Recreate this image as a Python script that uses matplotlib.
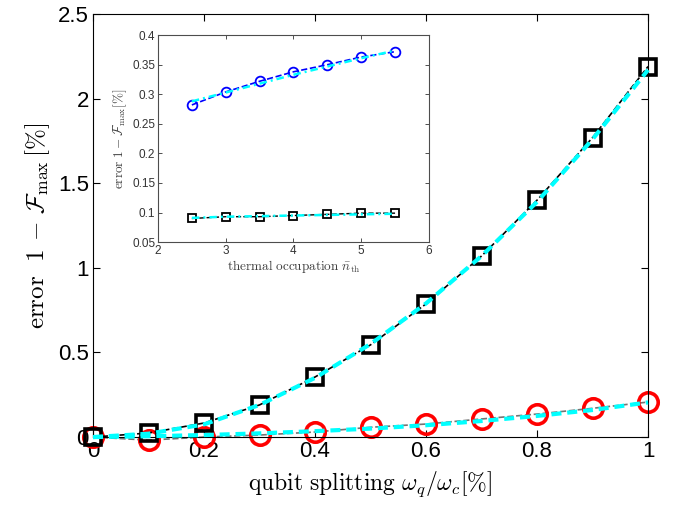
import numpy as np
import matplotlib.pyplot as plt

plt.rcParams['mathtext.fontset'] = 'cm'
plt.rcParams['font.family'] = ['Liberation Sans', 'DejaVu Sans']

# main panel data
split = [0, 0.1, 0.2, 0.3, 0.4, 0.5, 0.6, 0.7, 0.8, 0.9, 1.0]
err_sq = [0, 0.024, 0.083, 0.19, 0.355, 0.545, 0.787, 1.07, 1.40, 1.77, 2.19]
fit_sq = [0, 0.02, 0.075, 0.19, 0.35, 0.55, 0.79, 1.07, 1.39, 1.76, 2.17]
err_ci = [0, -0.018, 0.0, 0.012, 0.03, 0.058, 0.077, 0.107, 0.136, 0.17, 0.207]
fit_ci = [0, 0.005, 0.012, 0.022, 0.035, 0.05, 0.07, 0.095, 0.125, 0.16, 0.205]

# inset data
nth = [2.5, 3, 3.5, 4, 4.5, 5, 5.5]
in_ci = [0.282, 0.304, 0.322, 0.338, 0.350, 0.363, 0.372]
in_ci_fit = [0.288, 0.303, 0.318, 0.333, 0.347, 0.361, 0.374]
in_sq = [0.090, 0.093, 0.093, 0.095, 0.097, 0.099, 0.099]
in_sq_fit = [0.091, 0.093, 0.094, 0.095, 0.096, 0.097, 0.098]

fig = plt.figure(figsize=(6.79, 5.13), dpi=100)
ax = fig.add_axes([0.137, 0.148, 0.8174, 0.8246])

ax.plot(split, err_ci, ls='--', color='0.45', lw=1.2, marker='o', ms=14,
        mfc='none', mec='red', mew=2.6, clip_on=False, zorder=2)
ax.plot(split, err_sq, ls='--', color='k', lw=1.2, marker='s', ms=12,
        mfc='none', mec='k', mew=2.6, clip_on=False, zorder=3)
ax.plot(split, fit_ci, color='cyan', lw=3, dashes=(2.4, 1.4),
        clip_on=False, zorder=4)
ax.plot(split, fit_sq, color='cyan', lw=3, dashes=(2.4, 1.4),
        clip_on=False, zorder=4)

ax.set_xlim(0, 1)
ax.set_ylim(0, 2.5)
ax.set_xticks([0, 0.2, 0.4, 0.6, 0.8, 1])
ax.set_xticklabels(['0', '0.2', '0.4', '0.6', '0.8', '1'])
ax.set_yticks([0, 0.5, 1, 1.5, 2, 2.5])
ax.set_yticklabels(['0', '0.5', '1', '1.5', '2', '2.5'])
ax.tick_params(direction='in', top=True, right=True, labelsize=16, length=5,
               width=0.8, pad=3)
for s in ax.spines.values():
    s.set_linewidth(0.8)
ax.set_xlabel(r'$\mathrm{qubit\ splitting}\ \omega_q/\omega_c[\%]$', fontsize=17,
              labelpad=5)
ax.set_ylabel(r'$\mathrm{error}\ \ 1\,-\,\mathcal{F}_{\max}\,[\%]$', fontsize=18,
              labelpad=4)

# inset
axi = fig.add_axes([0.2327, 0.528, 0.399, 0.4035])
axi.plot(nth, in_ci, ls='--', color='blue', lw=1.2, marker='o', ms=7,
         mfc='none', mec='blue', mew=1.3)
axi.plot(nth, in_sq, ls='--', color='k', lw=1.0, marker='s', ms=5.5,
         mfc='none', mec='k', mew=1.3)
axi.plot(nth, in_ci_fit, color='cyan', lw=1.8, dashes=(3, 1.6, 0.8, 1.6))
axi.plot(nth, in_sq_fit, color='cyan', lw=1.8, dashes=(3, 1.6, 0.8, 1.6))
axi.set_xlim(2, 6)
axi.set_ylim(0.05, 0.4)
axi.set_xticks([2, 3, 4, 5, 6])
axi.set_yticks([0.05, 0.1, 0.15, 0.2, 0.25, 0.3, 0.35, 0.4])
axi.set_yticklabels(['0.05', '0.1', '0.15', '0.2', '0.25', '0.3', '0.35', '0.4'])
axi.tick_params(direction='in', top=True, right=True, labelsize=8.5, length=3,
                width=0.6, pad=2, colors='0.2')
for s in axi.spines.values():
    s.set_linewidth(0.8)
    s.set_color('0.3')
axi.set_xlabel(r'$\mathrm{thermal\ occupation}\ \bar{n}_{\mathrm{th}}$', fontsize=9.5,
               labelpad=1, color='0.25')
axi.set_ylabel(r'$\mathrm{error}\ 1-\mathcal{F}_{\max}[\%]$', fontsize=9.5,
               labelpad=2, color='0.25')

fig.savefig('out.png', dpi=100)
